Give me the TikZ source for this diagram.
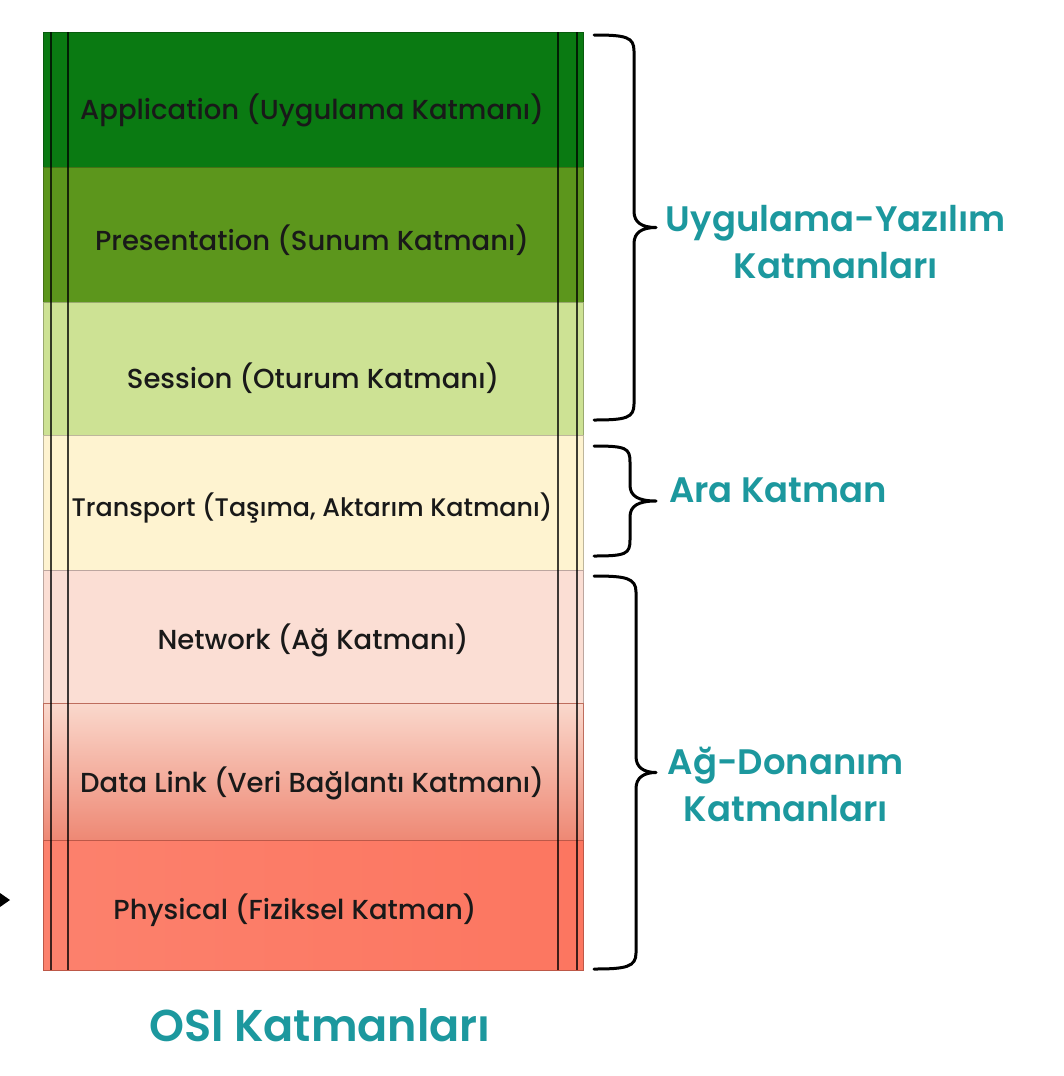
\documentclass[tikz,border=0pt]{standalone}
\usepackage{fontspec}
\setmainfont{Poppins}
\newfontfamily\medf{Poppins Medium}
\newfontfamily\semif{Poppins SemiBold}
\usetikzlibrary{decorations.pathreplacing}
\definecolor{appc}{RGB}{10,122,18}
\definecolor{presc}{RGB}{92,150,28}
\definecolor{sessc}{RGB}{205,226,148}
\definecolor{transc}{RGB}{254,243,208}
\definecolor{netc}{RGB}{251,222,212}
\definecolor{dltop}{RGB}{250,216,204}
\definecolor{dlbot}{RGB}{238,136,116}
\definecolor{physc}{RGB}{252,118,96}
\definecolor{txtc}{RGB}{25,25,25}
\definecolor{tealc}{RGB}{28,152,158}
\tikzset{
  layer/.style={draw=#1!75!black, line width=1pt, fill=#1, minimum width=540pt, inner sep=0pt, anchor=north west},
  ltext/.style={text=txtc, font=\medf\fontsize{27.5}{30}\selectfont, inner sep=0pt},
  vline/.style={draw=black, draw opacity=0.75, line width=1.6pt},
  bracestyle/.style={line width=3pt, line cap=round, line join=round},
  glabel/.style={text=tealc, font=\semif\fontsize{35.4}{47}\selectfont, align=center, inner sep=0pt},
}
\newcommand\obrace[3]{% top, bottom, vertical x
  \pgfmathsetmacro\bmid{(#1+#2)/2}
  \draw[bracestyle] (594,#1) .. controls (626,#1) and (#3,#1+2) .. (#3,#1+16)
    -- (#3,\bmid-16) .. controls (#3,\bmid-5) and (#3+8,\bmid) .. (656,\bmid)
    .. controls (#3+8,\bmid) and (#3,\bmid+5) .. (#3,\bmid+16)
    -- (#3,#2-16) .. controls (#3,#2-2) and (626,#2) .. (594,#2);
}
\begin{document}
\begin{tikzpicture}[x=1pt,y=-1pt]
\useasboundingbox (0,0) rectangle (1064,1076);
\fill[white] (0,0) rectangle (1064,1076);
% layers
\node[layer=appc, minimum height=135pt] (app) at (43,32) {};
\node[layer=presc, minimum height=135pt] (pres) at (43,167) {};
\node[layer=sessc, minimum height=133pt] (sess) at (43,302) {};
\node[layer=transc, minimum height=135pt] (trans) at (43,435) {};
\node[layer=netc, minimum height=133pt] (net) at (43,570) {};
\node[layer=netc, draw=dlbot!80!black, top color=dltop, bottom color=dlbot, minimum height=137pt] (dl) at (43,703) {};
\node[layer=physc, left color=physc!92!white, right color=physc, minimum height=130pt] (phys) at (43,840) {};
% vertical lines
\draw[vline] (51,32) -- (51,970);
\draw[vline] (68,32) -- (68,970);
\draw[vline] (558,32) -- (558,970);
\draw[vline] (577,32) -- (577,970);
% layer texts
\node[ltext] (tapp) at (312,110) {Application (Uygulama Katmanı)};
\node[ltext] (tpres) at (312,240) {Presentation (Sunum Katmanı)};
\node[ltext] (tsess) at (313,378) {Session (Oturum Katmanı)};
\node[ltext, font=\medf\fontsize{25.4}{30}\selectfont] (ttrans) at (312,508) {Transport (Taşıma, Aktarım Katmanı)};
\node[ltext] (tnet) at (313,640) {Network (Ağ Katmanı)};
\node[ltext] (tdl) at (312,783) {Data Link (Veri Bağlantı Katmanı)};
\node[ltext] (tphys) at (295,910) {Physical (Fiziksel Katman)};
% braces
\obrace{35}{420}{634}
\obrace{446}{556}{630}
\obrace{576}{969}{636}
% group labels
\node[glabel] (g1) at (836,242) {Uygulama-Yazılım\\Katmanları};
\node[glabel] (g2) at (778,490) {Ara Katman};
\node[glabel] (g3) at (786,784) {Ağ-Donanım\\Katmanları};
\node[glabel, font=\semif\fontsize{44.5}{50}\selectfont] (title) at (320,1025) {OSI Katmanları};
% stray arrow head at left edge
\fill[black] (0,893) -- (10,900) -- (0,907) -- cycle;
\end{tikzpicture}
\end{document}
